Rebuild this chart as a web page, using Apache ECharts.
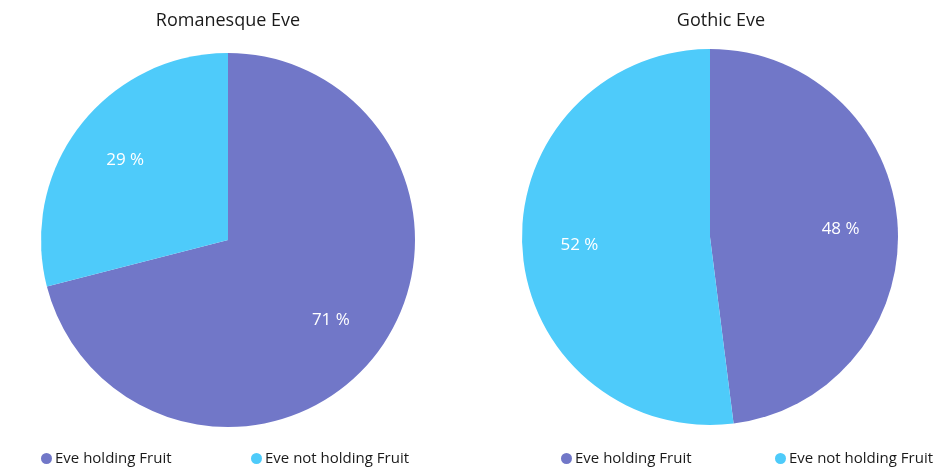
<!DOCTYPE html>
<html><head><meta charset="utf-8">
<script src="https://cdn.jsdelivr.net/npm/echarts@6/dist/echarts.min.js"></script>
<style>html,body{margin:0;padding:0;background:#fff}#c{width:937px;height:470px}</style>
</head><body><div id="c"></div>
<script>
const categories = ['Eve holding Fruit', 'Eve not holding Fruit'];
const romanesqueValues = [71, 29];
const gothicValues = [48, 52];
const titles = ['Romanesque Eve', 'Gothic Eve'];
const colors = ['#7177C8', '#4ECBFA'];
const FONT = 'Open Sans';

function mk(vals) { return categories.map((n, i) => ({ name: n, value: vals[i] })); }

const chart = echarts.init(document.getElementById('c'));
const pies = [
  { center: [228, 240], r: 187, vals: romanesqueValues },
  { center: [710, 237], r: 188, vals: gothicValues }
];
const series = [];
pies.forEach(p => {
  series.push({
    type: 'pie', center: p.center, radius: [0, p.r], startAngle: 90, clockwise: true,
    data: mk(p.vals), label: { show: false }, labelLine: { show: false },
    itemStyle: { borderWidth: 0 }, emphasis: { disabled: true }, silent: true, animation: false
  });
  series.push({
    type: 'pie', center: p.center, radius: [p.r * 0.48, p.r * 0.88], startAngle: 90, clockwise: true,
    data: mk(p.vals), itemStyle: { color: 'rgba(0,0,0,0)', borderWidth: 0 },
    label: { show: true, position: 'inside', formatter: '{c} %', color: '#fff', fontSize: 17, fontFamily: FONT },
    labelLine: { show: false }, emphasis: { disabled: true }, silent: true, animation: false
  });
});
const legendPos = [
  { left: 36, name: categories[0] }, { left: 246, name: categories[1] },
  { left: 556, name: categories[0] }, { left: 770, name: categories[1] }
];
chart.setOption({
  color: colors,
  title: [
    { text: titles[0], left: 223, top: 7, textAlign: 'center', textStyle: { fontFamily: FONT, fontSize: 18, fontWeight: 'normal', color: '#1a1a1a' } },
    { text: titles[1], left: 716, top: 7, textAlign: 'center', textStyle: { fontFamily: FONT, fontSize: 18, fontWeight: 'normal', color: '#1a1a1a' } }
  ],
  legend: legendPos.map(l => ({
    data: [l.name], left: l.left, top: 446, icon: 'circle', itemWidth: 11, itemHeight: 11,
    selectedMode: false,
    textStyle: { fontFamily: FONT, fontSize: 15, color: '#1a1a1a', padding: [0, 0, 0, -2] }
  })),
  series: series
});
</script></body></html>
